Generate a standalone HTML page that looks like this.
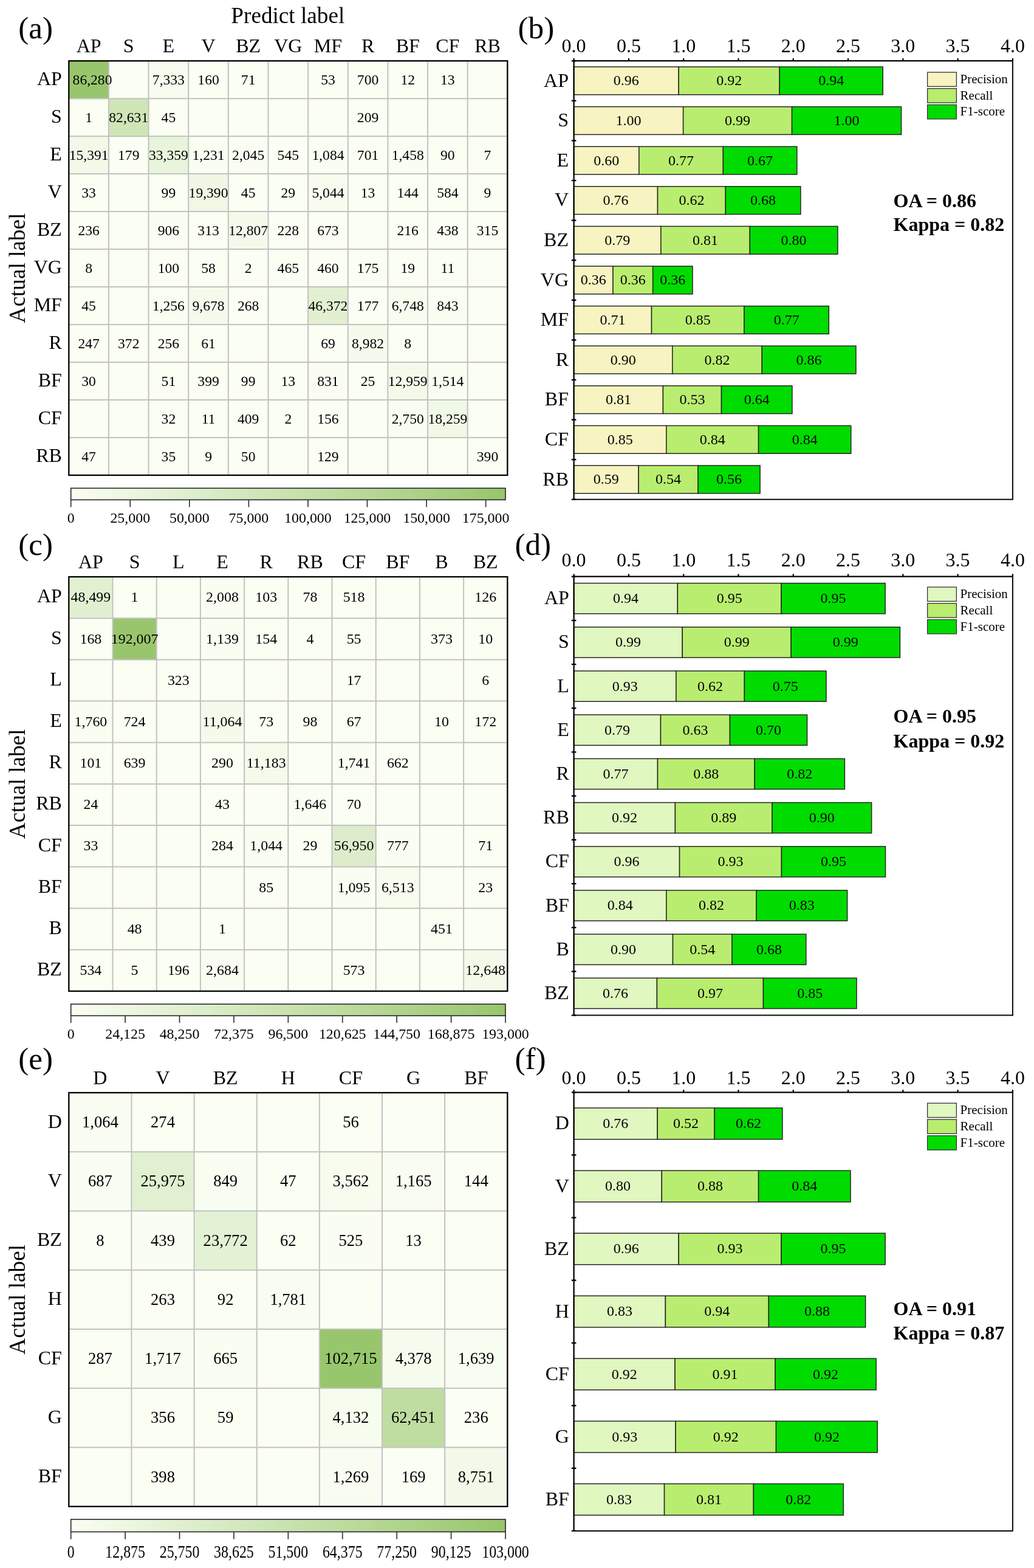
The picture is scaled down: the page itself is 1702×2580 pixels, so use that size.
<!DOCTYPE html>
<html lang="en">
<head>
<meta charset="utf-8">
<title>Confusion matrices and per-class accuracy</title>
<style>
html,body{margin:0;padding:0;background:#fff;}
body{width:1702px;height:2580px;overflow:hidden;}
svg{display:block;font-family:'Liberation Serif', 'DejaVu Serif', serif;fill:#000;}
svg text{fill:#000;}
</style>
</head>
<body>
<svg width="1702" height="2580" viewBox="0 0 1702 2580">
<rect x="0" y="0" width="1702" height="2580" fill="#ffffff"/>
<defs>
<linearGradient id="cbg" x1="0" y1="0" x2="1" y2="0"><stop offset="0" stop-color="#fafef3"/><stop offset="1" stop-color="#98c66c"/></linearGradient>
<clipPath id="mc0"><rect x="114.3" y="100.2" width="782" height="681.7"/></clipPath>
<clipPath id="mc1"><rect x="114.3" y="949.1" width="782" height="681.7"/></clipPath>
<clipPath id="mc2"><rect x="114.3" y="1797.95" width="782" height="680.85"/></clipPath>
</defs>
<g id="panel-a">
<text x="30.2" y="63.1" font-size="51.2" text-anchor="start">(a)</text>
<text x="473.8" y="38.3" font-size="37.2" text-anchor="middle">Predict label</text>
<text transform="translate(41.1 441.05) rotate(-90)" font-size="37.2" text-anchor="middle">Actual label</text>
<rect x="113.3" y="100.2" width="722" height="681.7" fill="#fafef3"/>
<rect x="113.3" y="100.2" width="65.64" height="61.97" fill="#98c66c"/>
<rect x="244.57" y="100.2" width="65.64" height="61.97" fill="#f6fcee"/>
<rect x="178.94" y="162.17" width="65.64" height="61.97" fill="#cfe5b7"/>
<rect x="113.3" y="224.15" width="65.64" height="61.97" fill="#f2f9e8"/>
<rect x="244.57" y="224.15" width="65.64" height="61.97" fill="#e8f4db"/>
<rect x="310.21" y="224.15" width="65.64" height="61.97" fill="#f9fef2"/>
<rect x="375.85" y="224.15" width="65.64" height="61.97" fill="#f9fdf2"/>
<rect x="507.12" y="224.15" width="65.64" height="61.97" fill="#f9fef2"/>
<rect x="638.39" y="224.15" width="65.64" height="61.97" fill="#f9fef2"/>
<rect x="310.21" y="286.12" width="65.64" height="61.97" fill="#f0f8e5"/>
<rect x="507.12" y="286.12" width="65.64" height="61.97" fill="#f7fcef"/>
<rect x="244.57" y="348.09" width="65.64" height="61.97" fill="#fafef2"/>
<rect x="375.85" y="348.09" width="65.64" height="61.97" fill="#f3faea"/>
<rect x="244.57" y="472.04" width="65.64" height="61.97" fill="#f9fef2"/>
<rect x="310.21" y="472.04" width="65.64" height="61.97" fill="#f5fbec"/>
<rect x="507.12" y="472.04" width="65.64" height="61.97" fill="#e2f0d1"/>
<rect x="638.39" y="472.04" width="65.64" height="61.97" fill="#f6fcee"/>
<rect x="704.03" y="472.04" width="65.64" height="61.97" fill="#fafef2"/>
<rect x="572.75" y="534.01" width="65.64" height="61.97" fill="#f5fbec"/>
<rect x="507.12" y="595.98" width="65.64" height="61.97" fill="#fafef2"/>
<rect x="638.39" y="595.98" width="65.64" height="61.97" fill="#f3faea"/>
<rect x="704.03" y="595.98" width="65.64" height="61.97" fill="#f9fef2"/>
<rect x="638.39" y="657.95" width="65.64" height="61.97" fill="#f9fdf1"/>
<rect x="704.03" y="657.95" width="65.64" height="61.97" fill="#f0f9e6"/>
<line x1="178.94" y1="100.2" x2="178.94" y2="781.9" stroke="#c2c2c2" stroke-width="2"/>
<line x1="113.3" y1="162.17" x2="835.3" y2="162.17" stroke="#c2c2c2" stroke-width="2"/>
<line x1="244.57" y1="100.2" x2="244.57" y2="781.9" stroke="#c2c2c2" stroke-width="2"/>
<line x1="113.3" y1="224.15" x2="835.3" y2="224.15" stroke="#c2c2c2" stroke-width="2"/>
<line x1="310.21" y1="100.2" x2="310.21" y2="781.9" stroke="#c2c2c2" stroke-width="2"/>
<line x1="113.3" y1="286.12" x2="835.3" y2="286.12" stroke="#c2c2c2" stroke-width="2"/>
<line x1="375.85" y1="100.2" x2="375.85" y2="781.9" stroke="#c2c2c2" stroke-width="2"/>
<line x1="113.3" y1="348.09" x2="835.3" y2="348.09" stroke="#c2c2c2" stroke-width="2"/>
<line x1="441.48" y1="100.2" x2="441.48" y2="781.9" stroke="#c2c2c2" stroke-width="2"/>
<line x1="113.3" y1="410.06" x2="835.3" y2="410.06" stroke="#c2c2c2" stroke-width="2"/>
<line x1="507.12" y1="100.2" x2="507.12" y2="781.9" stroke="#c2c2c2" stroke-width="2"/>
<line x1="113.3" y1="472.04" x2="835.3" y2="472.04" stroke="#c2c2c2" stroke-width="2"/>
<line x1="572.75" y1="100.2" x2="572.75" y2="781.9" stroke="#c2c2c2" stroke-width="2"/>
<line x1="113.3" y1="534.01" x2="835.3" y2="534.01" stroke="#c2c2c2" stroke-width="2"/>
<line x1="638.39" y1="100.2" x2="638.39" y2="781.9" stroke="#c2c2c2" stroke-width="2"/>
<line x1="113.3" y1="595.98" x2="835.3" y2="595.98" stroke="#c2c2c2" stroke-width="2"/>
<line x1="704.03" y1="100.2" x2="704.03" y2="781.9" stroke="#c2c2c2" stroke-width="2"/>
<line x1="113.3" y1="657.95" x2="835.3" y2="657.95" stroke="#c2c2c2" stroke-width="2"/>
<line x1="769.66" y1="100.2" x2="769.66" y2="781.9" stroke="#c2c2c2" stroke-width="2"/>
<line x1="113.3" y1="719.93" x2="835.3" y2="719.93" stroke="#c2c2c2" stroke-width="2"/>
<g clip-path="url(#mc0)" font-size="23.6" text-anchor="middle">
<text x="184.47" y="139.22" text-anchor="end">86,280</text>
<text x="277.39" y="139.22">7,333</text>
<text x="343.03" y="139.22">160</text>
<text x="408.66" y="139.22">71</text>
<text x="539.94" y="139.22">53</text>
<text x="605.57" y="139.22">700</text>
<text x="671.21" y="139.22">12</text>
<text x="736.85" y="139.22">13</text>
<text x="146.12" y="201.19">1</text>
<text x="211.75" y="201.19">82,631</text>
<text x="277.39" y="201.19">45</text>
<text x="605.57" y="201.19">209</text>
<text x="146.12" y="263.17">15,391</text>
<text x="211.75" y="263.17">179</text>
<text x="277.39" y="263.17">33,359</text>
<text x="343.03" y="263.17">1,231</text>
<text x="408.66" y="263.17">2,045</text>
<text x="474.3" y="263.17">545</text>
<text x="539.94" y="263.17">1,084</text>
<text x="605.57" y="263.17">701</text>
<text x="671.21" y="263.17">1,458</text>
<text x="736.85" y="263.17">90</text>
<text x="802.48" y="263.17">7</text>
<text x="146.12" y="325.14">33</text>
<text x="277.39" y="325.14">99</text>
<text x="343.03" y="325.14">19,390</text>
<text x="408.66" y="325.14">45</text>
<text x="474.3" y="325.14">29</text>
<text x="539.94" y="325.14">5,044</text>
<text x="605.57" y="325.14">13</text>
<text x="671.21" y="325.14">144</text>
<text x="736.85" y="325.14">584</text>
<text x="802.48" y="325.14">9</text>
<text x="146.12" y="387.11">236</text>
<text x="277.39" y="387.11">906</text>
<text x="343.03" y="387.11">313</text>
<text x="408.66" y="387.11">12,807</text>
<text x="474.3" y="387.11">228</text>
<text x="539.94" y="387.11">673</text>
<text x="671.21" y="387.11">216</text>
<text x="736.85" y="387.11">438</text>
<text x="802.48" y="387.11">315</text>
<text x="146.12" y="449.08">8</text>
<text x="277.39" y="449.08">100</text>
<text x="343.03" y="449.08">58</text>
<text x="408.66" y="449.08">2</text>
<text x="474.3" y="449.08">465</text>
<text x="539.94" y="449.08">460</text>
<text x="605.57" y="449.08">175</text>
<text x="671.21" y="449.08">19</text>
<text x="736.85" y="449.08">11</text>
<text x="146.12" y="511.06">45</text>
<text x="277.39" y="511.06">1,256</text>
<text x="343.03" y="511.06">9,678</text>
<text x="408.66" y="511.06">268</text>
<text x="539.94" y="511.06">46,372</text>
<text x="605.57" y="511.06">177</text>
<text x="671.21" y="511.06">6,748</text>
<text x="736.85" y="511.06">843</text>
<text x="146.12" y="573.03">247</text>
<text x="211.75" y="573.03">372</text>
<text x="277.39" y="573.03">256</text>
<text x="343.03" y="573.03">61</text>
<text x="539.94" y="573.03">69</text>
<text x="605.57" y="573.03">8,982</text>
<text x="671.21" y="573.03">8</text>
<text x="146.12" y="635">30</text>
<text x="277.39" y="635">51</text>
<text x="343.03" y="635">399</text>
<text x="408.66" y="635">99</text>
<text x="474.3" y="635">13</text>
<text x="539.94" y="635">831</text>
<text x="605.57" y="635">25</text>
<text x="671.21" y="635">12,959</text>
<text x="736.85" y="635">1,514</text>
<text x="277.39" y="696.97">32</text>
<text x="343.03" y="696.97">11</text>
<text x="408.66" y="696.97">409</text>
<text x="474.3" y="696.97">2</text>
<text x="539.94" y="696.97">156</text>
<text x="671.21" y="696.97">2,750</text>
<text x="736.85" y="696.97">18,259</text>
<text x="146.12" y="758.95">47</text>
<text x="277.39" y="758.95">35</text>
<text x="343.03" y="758.95">9</text>
<text x="408.66" y="758.95">50</text>
<text x="539.94" y="758.95">129</text>
<text x="802.48" y="758.95">390</text>
</g>
<rect x="113.3" y="100.2" width="722" height="681.7" fill="none" stroke="#000" stroke-width="2.3"/>
<text x="146.12" y="86" font-size="32" text-anchor="middle">AP</text>
<text x="101.9" y="140.09" font-size="32" text-anchor="end">AP</text>
<text x="211.75" y="86" font-size="32" text-anchor="middle">S</text>
<text x="101.9" y="202.06" font-size="32" text-anchor="end">S</text>
<text x="277.39" y="86" font-size="32" text-anchor="middle">E</text>
<text x="101.9" y="264.03" font-size="32" text-anchor="end">E</text>
<text x="343.03" y="86" font-size="32" text-anchor="middle">V</text>
<text x="101.9" y="326" font-size="32" text-anchor="end">V</text>
<text x="408.66" y="86" font-size="32" text-anchor="middle">BZ</text>
<text x="101.9" y="387.98" font-size="32" text-anchor="end">BZ</text>
<text x="474.3" y="86" font-size="32" text-anchor="middle">VG</text>
<text x="101.9" y="449.95" font-size="32" text-anchor="end">VG</text>
<text x="539.94" y="86" font-size="32" text-anchor="middle">MF</text>
<text x="101.9" y="511.92" font-size="32" text-anchor="end">MF</text>
<text x="605.57" y="86" font-size="32" text-anchor="middle">R</text>
<text x="101.9" y="573.9" font-size="32" text-anchor="end">R</text>
<text x="671.21" y="86" font-size="32" text-anchor="middle">BF</text>
<text x="101.9" y="635.87" font-size="32" text-anchor="end">BF</text>
<text x="736.85" y="86" font-size="32" text-anchor="middle">CF</text>
<text x="101.9" y="697.84" font-size="32" text-anchor="end">CF</text>
<text x="802.48" y="86" font-size="32" text-anchor="middle">RB</text>
<text x="101.9" y="759.81" font-size="32" text-anchor="end">RB</text>
<rect x="116.7" y="803.3" width="715.3" height="19.1" fill="url(#cbg)" stroke="#262626" stroke-width="1.6"/>
<line x1="116.7" y1="822.4" x2="116.7" y2="834.3" stroke="#333" stroke-width="1.7"/>
<text x="116.7" y="860.3" font-size="23.9" text-anchor="middle">0</text>
<line x1="214.26" y1="822.4" x2="214.26" y2="834.3" stroke="#333" stroke-width="1.7"/>
<text x="214.26" y="860.3" font-size="23.9" text-anchor="middle">25,000</text>
<line x1="311.82" y1="822.4" x2="311.82" y2="834.3" stroke="#333" stroke-width="1.7"/>
<text x="311.82" y="860.3" font-size="23.9" text-anchor="middle">50,000</text>
<line x1="409.38" y1="822.4" x2="409.38" y2="834.3" stroke="#333" stroke-width="1.7"/>
<text x="409.38" y="860.3" font-size="23.9" text-anchor="middle">75,000</text>
<line x1="506.93" y1="822.4" x2="506.93" y2="834.3" stroke="#333" stroke-width="1.7"/>
<text x="506.93" y="860.3" font-size="23.9" text-anchor="middle">100,000</text>
<line x1="604.49" y1="822.4" x2="604.49" y2="834.3" stroke="#333" stroke-width="1.7"/>
<text x="604.49" y="860.3" font-size="23.9" text-anchor="middle">125,000</text>
<line x1="702.05" y1="822.4" x2="702.05" y2="834.3" stroke="#333" stroke-width="1.7"/>
<text x="702.05" y="860.3" font-size="23.9" text-anchor="middle">150,000</text>
<line x1="799.61" y1="822.4" x2="799.61" y2="834.3" stroke="#333" stroke-width="1.7"/>
<text x="799.61" y="860.3" font-size="23.9" text-anchor="middle">175,000</text>
<text x="852.5" y="63.1" font-size="51.2" text-anchor="start">(b)</text>
<line x1="944.6" y1="95.9" x2="944.6" y2="100.2" stroke="#000" stroke-width="2.2"/>
<text x="944.6" y="86.4" font-size="32" text-anchor="middle">0.0</text>
<line x1="1034.89" y1="95.9" x2="1034.89" y2="100.2" stroke="#000" stroke-width="2.2"/>
<text x="1034.89" y="86.4" font-size="32" text-anchor="middle">0.5</text>
<line x1="1125.17" y1="95.9" x2="1125.17" y2="100.2" stroke="#000" stroke-width="2.2"/>
<text x="1125.17" y="86.4" font-size="32" text-anchor="middle">1.0</text>
<line x1="1215.46" y1="95.9" x2="1215.46" y2="100.2" stroke="#000" stroke-width="2.2"/>
<text x="1215.46" y="86.4" font-size="32" text-anchor="middle">1.5</text>
<line x1="1305.75" y1="95.9" x2="1305.75" y2="100.2" stroke="#000" stroke-width="2.2"/>
<text x="1305.75" y="86.4" font-size="32" text-anchor="middle">2.0</text>
<line x1="1396.04" y1="95.9" x2="1396.04" y2="100.2" stroke="#000" stroke-width="2.2"/>
<text x="1396.04" y="86.4" font-size="32" text-anchor="middle">2.5</text>
<line x1="1486.33" y1="95.9" x2="1486.33" y2="100.2" stroke="#000" stroke-width="2.2"/>
<text x="1486.33" y="86.4" font-size="32" text-anchor="middle">3.0</text>
<line x1="1576.61" y1="95.9" x2="1576.61" y2="100.2" stroke="#000" stroke-width="2.2"/>
<text x="1576.61" y="86.4" font-size="32" text-anchor="middle">3.5</text>
<line x1="1666.9" y1="95.9" x2="1666.9" y2="100.2" stroke="#000" stroke-width="2.2"/>
<text x="1666.9" y="86.4" font-size="32" text-anchor="middle">4.0</text>
<line x1="940.8" y1="100.2" x2="948.4" y2="100.2" stroke="#000" stroke-width="2.3"/>
<line x1="940.8" y1="165.8" x2="948.4" y2="165.8" stroke="#000" stroke-width="2.3"/>
<line x1="940.8" y1="231.4" x2="948.4" y2="231.4" stroke="#000" stroke-width="2.3"/>
<line x1="940.8" y1="297" x2="948.4" y2="297" stroke="#000" stroke-width="2.3"/>
<line x1="940.8" y1="362.6" x2="948.4" y2="362.6" stroke="#000" stroke-width="2.3"/>
<line x1="940.8" y1="428.2" x2="948.4" y2="428.2" stroke="#000" stroke-width="2.3"/>
<line x1="940.8" y1="493.8" x2="948.4" y2="493.8" stroke="#000" stroke-width="2.3"/>
<line x1="940.8" y1="559.4" x2="948.4" y2="559.4" stroke="#000" stroke-width="2.3"/>
<line x1="940.8" y1="625" x2="948.4" y2="625" stroke="#000" stroke-width="2.3"/>
<line x1="940.8" y1="690.6" x2="948.4" y2="690.6" stroke="#000" stroke-width="2.3"/>
<line x1="940.8" y1="756.2" x2="948.4" y2="756.2" stroke="#000" stroke-width="2.3"/>
<line x1="940.8" y1="821.8" x2="948.4" y2="821.8" stroke="#000" stroke-width="2.3"/>
<text x="936" y="142.5" font-size="32" text-anchor="end">AP</text>
<rect x="944.6" y="110" width="172.54" height="45.8" fill="#f7f4c1" stroke="#262620" stroke-width="1.5"/>
<text x="1030.87" y="140.32" font-size="24" text-anchor="middle">0.96</text>
<rect x="1117.14" y="110" width="166.07" height="45.8" fill="#b9ed6f" stroke="#262620" stroke-width="1.5"/>
<text x="1200.18" y="140.32" font-size="24" text-anchor="middle">0.92</text>
<rect x="1283.21" y="110" width="170" height="45.8" fill="#00dc00" stroke="#262620" stroke-width="1.5"/>
<text x="1368.21" y="140.32" font-size="24" text-anchor="middle">0.94</text>
<text x="936" y="208.1" font-size="32" text-anchor="end">S</text>
<rect x="944.6" y="175.6" width="180.04" height="45.8" fill="#f7f4c1" stroke="#262620" stroke-width="1.5"/>
<text x="1034.62" y="205.92" font-size="24" text-anchor="middle">1.00</text>
<rect x="1124.64" y="175.6" width="178.93" height="45.8" fill="#b9ed6f" stroke="#262620" stroke-width="1.5"/>
<text x="1214.11" y="205.92" font-size="24" text-anchor="middle">0.99</text>
<rect x="1303.57" y="175.6" width="180" height="45.8" fill="#00dc00" stroke="#262620" stroke-width="1.5"/>
<text x="1393.57" y="205.92" font-size="24" text-anchor="middle">1.00</text>
<text x="936" y="273.7" font-size="32" text-anchor="end">E</text>
<rect x="944.6" y="241.2" width="107.19" height="45.8" fill="#f7f4c1" stroke="#262620" stroke-width="1.5"/>
<text x="998.19" y="271.52" font-size="24" text-anchor="middle">0.60</text>
<rect x="1051.79" y="241.2" width="138.57" height="45.8" fill="#b9ed6f" stroke="#262620" stroke-width="1.5"/>
<text x="1121.07" y="271.52" font-size="24" text-anchor="middle">0.77</text>
<rect x="1190.36" y="241.2" width="121.43" height="45.8" fill="#00dc00" stroke="#262620" stroke-width="1.5"/>
<text x="1251.07" y="271.52" font-size="24" text-anchor="middle">0.67</text>
<text x="936" y="339.3" font-size="32" text-anchor="end">V</text>
<rect x="944.6" y="306.8" width="137.9" height="45.8" fill="#f7f4c1" stroke="#262620" stroke-width="1.5"/>
<text x="1013.55" y="337.12" font-size="24" text-anchor="middle">0.76</text>
<rect x="1082.5" y="306.8" width="111.79" height="45.8" fill="#b9ed6f" stroke="#262620" stroke-width="1.5"/>
<text x="1138.39" y="337.12" font-size="24" text-anchor="middle">0.62</text>
<rect x="1194.29" y="306.8" width="123.57" height="45.8" fill="#00dc00" stroke="#262620" stroke-width="1.5"/>
<text x="1256.07" y="337.12" font-size="24" text-anchor="middle">0.68</text>
<text x="936" y="404.9" font-size="32" text-anchor="end">BZ</text>
<rect x="944.6" y="372.4" width="143.26" height="45.8" fill="#f7f4c1" stroke="#262620" stroke-width="1.5"/>
<text x="1016.23" y="402.72" font-size="24" text-anchor="middle">0.79</text>
<rect x="1087.86" y="372.4" width="146.43" height="45.8" fill="#b9ed6f" stroke="#262620" stroke-width="1.5"/>
<text x="1161.07" y="402.72" font-size="24" text-anchor="middle">0.81</text>
<rect x="1234.29" y="372.4" width="144.64" height="45.8" fill="#00dc00" stroke="#262620" stroke-width="1.5"/>
<text x="1306.61" y="402.72" font-size="24" text-anchor="middle">0.80</text>
<text x="936" y="470.5" font-size="32" text-anchor="end">VG</text>
<rect x="944.6" y="438" width="64.33" height="45.8" fill="#f7f4c1" stroke="#262620" stroke-width="1.5"/>
<text x="976.76" y="468.32" font-size="24" text-anchor="middle">0.36</text>
<rect x="1008.93" y="438" width="65.71" height="45.8" fill="#b9ed6f" stroke="#262620" stroke-width="1.5"/>
<text x="1041.79" y="468.32" font-size="24" text-anchor="middle">0.36</text>
<rect x="1074.64" y="438" width="65.36" height="45.8" fill="#00dc00" stroke="#262620" stroke-width="1.5"/>
<text x="1107.32" y="468.32" font-size="24" text-anchor="middle">0.36</text>
<text x="936" y="536.1" font-size="32" text-anchor="end">MF</text>
<rect x="944.6" y="503.6" width="127.9" height="45.8" fill="#f7f4c1" stroke="#262620" stroke-width="1.5"/>
<text x="1008.55" y="533.92" font-size="24" text-anchor="middle">0.71</text>
<rect x="1072.5" y="503.6" width="152.5" height="45.8" fill="#b9ed6f" stroke="#262620" stroke-width="1.5"/>
<text x="1148.75" y="533.92" font-size="24" text-anchor="middle">0.85</text>
<rect x="1225" y="503.6" width="139.29" height="45.8" fill="#00dc00" stroke="#262620" stroke-width="1.5"/>
<text x="1294.64" y="533.92" font-size="24" text-anchor="middle">0.77</text>
<text x="936" y="601.7" font-size="32" text-anchor="end">R</text>
<rect x="944.6" y="569.2" width="162.19" height="45.8" fill="#f7f4c1" stroke="#262620" stroke-width="1.5"/>
<text x="1025.69" y="599.52" font-size="24" text-anchor="middle">0.90</text>
<rect x="1106.79" y="569.2" width="147.5" height="45.8" fill="#b9ed6f" stroke="#262620" stroke-width="1.5"/>
<text x="1180.54" y="599.52" font-size="24" text-anchor="middle">0.82</text>
<rect x="1254.29" y="569.2" width="154.64" height="45.8" fill="#00dc00" stroke="#262620" stroke-width="1.5"/>
<text x="1331.61" y="599.52" font-size="24" text-anchor="middle">0.86</text>
<text x="936" y="667.3" font-size="32" text-anchor="end">BF</text>
<rect x="944.6" y="634.8" width="146.83" height="45.8" fill="#f7f4c1" stroke="#262620" stroke-width="1.5"/>
<text x="1018.01" y="665.12" font-size="24" text-anchor="middle">0.81</text>
<rect x="1091.43" y="634.8" width="96.07" height="45.8" fill="#b9ed6f" stroke="#262620" stroke-width="1.5"/>
<text x="1139.46" y="665.12" font-size="24" text-anchor="middle">0.53</text>
<rect x="1187.5" y="634.8" width="116.43" height="45.8" fill="#00dc00" stroke="#262620" stroke-width="1.5"/>
<text x="1245.71" y="665.12" font-size="24" text-anchor="middle">0.64</text>
<text x="936" y="732.9" font-size="32" text-anchor="end">CF</text>
<rect x="944.6" y="700.4" width="152.19" height="45.8" fill="#f7f4c1" stroke="#262620" stroke-width="1.5"/>
<text x="1020.69" y="730.72" font-size="24" text-anchor="middle">0.85</text>
<rect x="1096.79" y="700.4" width="151.79" height="45.8" fill="#b9ed6f" stroke="#262620" stroke-width="1.5"/>
<text x="1172.68" y="730.72" font-size="24" text-anchor="middle">0.84</text>
<rect x="1248.57" y="700.4" width="152.14" height="45.8" fill="#00dc00" stroke="#262620" stroke-width="1.5"/>
<text x="1324.64" y="730.72" font-size="24" text-anchor="middle">0.84</text>
<text x="936" y="798.5" font-size="32" text-anchor="end">RB</text>
<rect x="944.6" y="766" width="106.47" height="45.8" fill="#f7f4c1" stroke="#262620" stroke-width="1.5"/>
<text x="997.84" y="796.32" font-size="24" text-anchor="middle">0.59</text>
<rect x="1051.07" y="766" width="97.86" height="45.8" fill="#b9ed6f" stroke="#262620" stroke-width="1.5"/>
<text x="1100" y="796.32" font-size="24" text-anchor="middle">0.54</text>
<rect x="1148.93" y="766" width="102.14" height="45.8" fill="#00dc00" stroke="#262620" stroke-width="1.5"/>
<text x="1200" y="796.32" font-size="24" text-anchor="middle">0.56</text>
<line x1="944.6" y1="99.05" x2="944.6" y2="822.7" stroke="#000" stroke-width="2.3"/>
<line x1="943.45" y1="100.2" x2="1667.8" y2="100.2" stroke="#000" stroke-width="2.3"/>
<line x1="1666.9" y1="100.2" x2="1666.9" y2="822.7" stroke="#080808" stroke-width="2"/>
<line x1="944.6" y1="821.8" x2="1666.9" y2="821.8" stroke="#080808" stroke-width="2"/>
<rect x="1526.6" y="118.9" width="47.8" height="23.4" fill="#f7f4c1" stroke="#333" stroke-width="1.3"/>
<text x="1580.6" y="136.9" font-size="21" text-anchor="start">Precision</text>
<rect x="1526.6" y="145.65" width="47.8" height="23.4" fill="#b9ed6f" stroke="#333" stroke-width="1.3"/>
<text x="1580.6" y="163.65" font-size="21" text-anchor="start">Recall</text>
<rect x="1526.6" y="172.4" width="47.8" height="23.4" fill="#00dc00" stroke="#333" stroke-width="1.3"/>
<text x="1580.6" y="190.4" font-size="21" text-anchor="start">F1-score</text>
<text x="1470.5" y="341" font-size="32" text-anchor="start" font-weight="bold">OA = 0.86</text>
<text x="1470.5" y="380" font-size="32" text-anchor="start" font-weight="bold">Kappa = 0.82</text>
</g>
<g id="panel-c">
<text x="30.2" y="913.3" font-size="51.2" text-anchor="start">(c)</text>
<text transform="translate(41.1 1289.95) rotate(-90)" font-size="37.2" text-anchor="middle">Actual label</text>
<rect x="113.3" y="949.1" width="722" height="681.7" fill="#fafef3"/>
<rect x="113.3" y="949.1" width="72.2" height="68.17" fill="#e1f0d1"/>
<rect x="329.9" y="949.1" width="72.2" height="68.17" fill="#f9fdf2"/>
<rect x="185.5" y="1017.27" width="72.2" height="68.17" fill="#99c66d"/>
<rect x="329.9" y="1017.27" width="72.2" height="68.17" fill="#f9fef2"/>
<rect x="113.3" y="1153.61" width="72.2" height="68.17" fill="#f9fdf2"/>
<rect x="329.9" y="1153.61" width="72.2" height="68.17" fill="#f4fbeb"/>
<rect x="402.1" y="1221.78" width="72.2" height="68.17" fill="#f4fbeb"/>
<rect x="546.5" y="1221.78" width="72.2" height="68.17" fill="#f9fdf2"/>
<rect x="474.3" y="1289.95" width="72.2" height="68.17" fill="#f9fef2"/>
<rect x="402.1" y="1358.12" width="72.2" height="68.17" fill="#f9fef2"/>
<rect x="546.5" y="1358.12" width="72.2" height="68.17" fill="#ddedcb"/>
<rect x="618.7" y="1358.12" width="72.2" height="68.17" fill="#fafef2"/>
<rect x="546.5" y="1426.29" width="72.2" height="68.17" fill="#f9fef2"/>
<rect x="618.7" y="1426.29" width="72.2" height="68.17" fill="#f7fcee"/>
<rect x="329.9" y="1562.63" width="72.2" height="68.17" fill="#f9fdf1"/>
<rect x="763.1" y="1562.63" width="72.2" height="68.17" fill="#f4faea"/>
<line x1="185.5" y1="949.1" x2="185.5" y2="1630.8" stroke="#c2c2c2" stroke-width="2"/>
<line x1="113.3" y1="1017.27" x2="835.3" y2="1017.27" stroke="#c2c2c2" stroke-width="2"/>
<line x1="257.7" y1="949.1" x2="257.7" y2="1630.8" stroke="#c2c2c2" stroke-width="2"/>
<line x1="113.3" y1="1085.44" x2="835.3" y2="1085.44" stroke="#c2c2c2" stroke-width="2"/>
<line x1="329.9" y1="949.1" x2="329.9" y2="1630.8" stroke="#c2c2c2" stroke-width="2"/>
<line x1="113.3" y1="1153.61" x2="835.3" y2="1153.61" stroke="#c2c2c2" stroke-width="2"/>
<line x1="402.1" y1="949.1" x2="402.1" y2="1630.8" stroke="#c2c2c2" stroke-width="2"/>
<line x1="113.3" y1="1221.78" x2="835.3" y2="1221.78" stroke="#c2c2c2" stroke-width="2"/>
<line x1="474.3" y1="949.1" x2="474.3" y2="1630.8" stroke="#c2c2c2" stroke-width="2"/>
<line x1="113.3" y1="1289.95" x2="835.3" y2="1289.95" stroke="#c2c2c2" stroke-width="2"/>
<line x1="546.5" y1="949.1" x2="546.5" y2="1630.8" stroke="#c2c2c2" stroke-width="2"/>
<line x1="113.3" y1="1358.12" x2="835.3" y2="1358.12" stroke="#c2c2c2" stroke-width="2"/>
<line x1="618.7" y1="949.1" x2="618.7" y2="1630.8" stroke="#c2c2c2" stroke-width="2"/>
<line x1="113.3" y1="1426.29" x2="835.3" y2="1426.29" stroke="#c2c2c2" stroke-width="2"/>
<line x1="690.9" y1="949.1" x2="690.9" y2="1630.8" stroke="#c2c2c2" stroke-width="2"/>
<line x1="113.3" y1="1494.46" x2="835.3" y2="1494.46" stroke="#c2c2c2" stroke-width="2"/>
<line x1="763.1" y1="949.1" x2="763.1" y2="1630.8" stroke="#c2c2c2" stroke-width="2"/>
<line x1="113.3" y1="1562.63" x2="835.3" y2="1562.63" stroke="#c2c2c2" stroke-width="2"/>
<g clip-path="url(#mc1)" font-size="23.9" text-anchor="middle">
<text x="149.4" y="990.41">48,499</text>
<text x="221.6" y="990.41">1</text>
<text x="366" y="990.41">2,008</text>
<text x="438.2" y="990.41">103</text>
<text x="510.4" y="990.41">78</text>
<text x="582.6" y="990.41">518</text>
<text x="799.2" y="990.41">126</text>
<text x="149.4" y="1058.58">168</text>
<text x="221.6" y="1058.58">192,007</text>
<text x="366" y="1058.58">1,139</text>
<text x="438.2" y="1058.58">154</text>
<text x="510.4" y="1058.58">4</text>
<text x="582.6" y="1058.58">55</text>
<text x="727" y="1058.58">373</text>
<text x="799.2" y="1058.58">10</text>
<text x="293.8" y="1126.75">323</text>
<text x="582.6" y="1126.75">17</text>
<text x="799.2" y="1126.75">6</text>
<text x="149.4" y="1194.92">1,760</text>
<text x="221.6" y="1194.92">724</text>
<text x="366" y="1194.92">11,064</text>
<text x="438.2" y="1194.92">73</text>
<text x="510.4" y="1194.92">98</text>
<text x="582.6" y="1194.92">67</text>
<text x="727" y="1194.92">10</text>
<text x="799.2" y="1194.92">172</text>
<text x="149.4" y="1263.09">101</text>
<text x="221.6" y="1263.09">639</text>
<text x="366" y="1263.09">290</text>
<text x="438.2" y="1263.09">11,183</text>
<text x="582.6" y="1263.09">1,741</text>
<text x="654.8" y="1263.09">662</text>
<text x="149.4" y="1331.26">24</text>
<text x="366" y="1331.26">43</text>
<text x="510.4" y="1331.26">1,646</text>
<text x="582.6" y="1331.26">70</text>
<text x="149.4" y="1399.43">33</text>
<text x="366" y="1399.43">284</text>
<text x="438.2" y="1399.43">1,044</text>
<text x="510.4" y="1399.43">29</text>
<text x="582.6" y="1399.43">56,950</text>
<text x="654.8" y="1399.43">777</text>
<text x="799.2" y="1399.43">71</text>
<text x="438.2" y="1467.6">85</text>
<text x="582.6" y="1467.6">1,095</text>
<text x="654.8" y="1467.6">6,513</text>
<text x="799.2" y="1467.6">23</text>
<text x="221.6" y="1535.77">48</text>
<text x="366" y="1535.77">1</text>
<text x="727" y="1535.77">451</text>
<text x="149.4" y="1603.94">534</text>
<text x="221.6" y="1603.94">5</text>
<text x="293.8" y="1603.94">196</text>
<text x="366" y="1603.94">2,684</text>
<text x="582.6" y="1603.94">573</text>
<text x="799.2" y="1603.94">12,648</text>
</g>
<rect x="113.3" y="949.1" width="722" height="681.7" fill="none" stroke="#000" stroke-width="2.3"/>
<text x="149.4" y="934.9" font-size="32" text-anchor="middle">AP</text>
<text x="101.9" y="991.49" font-size="32" text-anchor="end">AP</text>
<text x="221.6" y="934.9" font-size="32" text-anchor="middle">S</text>
<text x="101.9" y="1059.65" font-size="32" text-anchor="end">S</text>
<text x="293.8" y="934.9" font-size="32" text-anchor="middle">L</text>
<text x="101.9" y="1127.83" font-size="32" text-anchor="end">L</text>
<text x="366" y="934.9" font-size="32" text-anchor="middle">E</text>
<text x="101.9" y="1196" font-size="32" text-anchor="end">E</text>
<text x="438.2" y="934.9" font-size="32" text-anchor="middle">R</text>
<text x="101.9" y="1264.17" font-size="32" text-anchor="end">R</text>
<text x="510.4" y="934.9" font-size="32" text-anchor="middle">RB</text>
<text x="101.9" y="1332.34" font-size="32" text-anchor="end">RB</text>
<text x="582.6" y="934.9" font-size="32" text-anchor="middle">CF</text>
<text x="101.9" y="1400.51" font-size="32" text-anchor="end">CF</text>
<text x="654.8" y="934.9" font-size="32" text-anchor="middle">BF</text>
<text x="101.9" y="1468.67" font-size="32" text-anchor="end">BF</text>
<text x="727" y="934.9" font-size="32" text-anchor="middle">B</text>
<text x="101.9" y="1536.85" font-size="32" text-anchor="end">B</text>
<text x="799.2" y="934.9" font-size="32" text-anchor="middle">BZ</text>
<text x="101.9" y="1605.02" font-size="32" text-anchor="end">BZ</text>
<rect x="116.7" y="1652.2" width="715.3" height="19.1" fill="url(#cbg)" stroke="#262626" stroke-width="1.6"/>
<line x1="116.7" y1="1671.3" x2="116.7" y2="1683" stroke="#333" stroke-width="1.7"/>
<text x="116.7" y="1708.9" font-size="23.9" text-anchor="middle">0</text>
<line x1="206.11" y1="1671.3" x2="206.11" y2="1683" stroke="#333" stroke-width="1.7"/>
<text x="206.11" y="1708.9" font-size="23.9" text-anchor="middle">24,125</text>
<line x1="295.52" y1="1671.3" x2="295.52" y2="1683" stroke="#333" stroke-width="1.7"/>
<text x="295.52" y="1708.9" font-size="23.9" text-anchor="middle">48,250</text>
<line x1="384.94" y1="1671.3" x2="384.94" y2="1683" stroke="#333" stroke-width="1.7"/>
<text x="384.94" y="1708.9" font-size="23.9" text-anchor="middle">72,375</text>
<line x1="474.35" y1="1671.3" x2="474.35" y2="1683" stroke="#333" stroke-width="1.7"/>
<text x="474.35" y="1708.9" font-size="23.9" text-anchor="middle">96,500</text>
<line x1="563.76" y1="1671.3" x2="563.76" y2="1683" stroke="#333" stroke-width="1.7"/>
<text x="563.76" y="1708.9" font-size="23.9" text-anchor="middle">120,625</text>
<line x1="653.18" y1="1671.3" x2="653.18" y2="1683" stroke="#333" stroke-width="1.7"/>
<text x="653.18" y="1708.9" font-size="23.9" text-anchor="middle">144,750</text>
<line x1="742.59" y1="1671.3" x2="742.59" y2="1683" stroke="#333" stroke-width="1.7"/>
<text x="742.59" y="1708.9" font-size="23.9" text-anchor="middle">168,875</text>
<line x1="832" y1="1671.3" x2="832" y2="1683" stroke="#333" stroke-width="1.7"/>
<text x="832" y="1708.9" font-size="23.9" text-anchor="middle">193,000</text>
<text x="847.4" y="913.3" font-size="51.2" text-anchor="start">(d)</text>
<line x1="944.6" y1="944.4" x2="944.6" y2="948.7" stroke="#000" stroke-width="2.2"/>
<text x="944.6" y="932.4" font-size="32" text-anchor="middle">0.0</text>
<line x1="1034.89" y1="944.4" x2="1034.89" y2="948.7" stroke="#000" stroke-width="2.2"/>
<text x="1034.89" y="932.4" font-size="32" text-anchor="middle">0.5</text>
<line x1="1125.17" y1="944.4" x2="1125.17" y2="948.7" stroke="#000" stroke-width="2.2"/>
<text x="1125.17" y="932.4" font-size="32" text-anchor="middle">1.0</text>
<line x1="1215.46" y1="944.4" x2="1215.46" y2="948.7" stroke="#000" stroke-width="2.2"/>
<text x="1215.46" y="932.4" font-size="32" text-anchor="middle">1.5</text>
<line x1="1305.75" y1="944.4" x2="1305.75" y2="948.7" stroke="#000" stroke-width="2.2"/>
<text x="1305.75" y="932.4" font-size="32" text-anchor="middle">2.0</text>
<line x1="1396.04" y1="944.4" x2="1396.04" y2="948.7" stroke="#000" stroke-width="2.2"/>
<text x="1396.04" y="932.4" font-size="32" text-anchor="middle">2.5</text>
<line x1="1486.33" y1="944.4" x2="1486.33" y2="948.7" stroke="#000" stroke-width="2.2"/>
<text x="1486.33" y="932.4" font-size="32" text-anchor="middle">3.0</text>
<line x1="1576.61" y1="944.4" x2="1576.61" y2="948.7" stroke="#000" stroke-width="2.2"/>
<text x="1576.61" y="932.4" font-size="32" text-anchor="middle">3.5</text>
<line x1="1666.9" y1="944.4" x2="1666.9" y2="948.7" stroke="#000" stroke-width="2.2"/>
<text x="1666.9" y="932.4" font-size="32" text-anchor="middle">4.0</text>
<line x1="940.8" y1="948.7" x2="948.4" y2="948.7" stroke="#000" stroke-width="2.3"/>
<line x1="940.8" y1="1020.89" x2="948.4" y2="1020.89" stroke="#000" stroke-width="2.3"/>
<line x1="940.8" y1="1093.08" x2="948.4" y2="1093.08" stroke="#000" stroke-width="2.3"/>
<line x1="940.8" y1="1165.27" x2="948.4" y2="1165.27" stroke="#000" stroke-width="2.3"/>
<line x1="940.8" y1="1237.46" x2="948.4" y2="1237.46" stroke="#000" stroke-width="2.3"/>
<line x1="940.8" y1="1309.65" x2="948.4" y2="1309.65" stroke="#000" stroke-width="2.3"/>
<line x1="940.8" y1="1381.84" x2="948.4" y2="1381.84" stroke="#000" stroke-width="2.3"/>
<line x1="940.8" y1="1454.03" x2="948.4" y2="1454.03" stroke="#000" stroke-width="2.3"/>
<line x1="940.8" y1="1526.22" x2="948.4" y2="1526.22" stroke="#000" stroke-width="2.3"/>
<line x1="940.8" y1="1598.41" x2="948.4" y2="1598.41" stroke="#000" stroke-width="2.3"/>
<line x1="940.8" y1="1670.6" x2="948.4" y2="1670.6" stroke="#000" stroke-width="2.3"/>
<text x="936.8" y="994.3" font-size="32" text-anchor="end">AP</text>
<rect x="944.6" y="959.6" width="170.76" height="50.2" fill="#e0f7c0" stroke="#262620" stroke-width="1.5"/>
<text x="1029.98" y="992.12" font-size="24" text-anchor="middle">0.94</text>
<rect x="1115.36" y="959.6" width="170.71" height="50.2" fill="#b9ed6f" stroke="#262620" stroke-width="1.5"/>
<text x="1200.71" y="992.12" font-size="24" text-anchor="middle">0.95</text>
<rect x="1286.07" y="959.6" width="171.07" height="50.2" fill="#00dc00" stroke="#262620" stroke-width="1.5"/>
<text x="1371.61" y="992.12" font-size="24" text-anchor="middle">0.95</text>
<text x="936.8" y="1066.49" font-size="32" text-anchor="end">S</text>
<rect x="944.6" y="1031.79" width="178.61" height="50.2" fill="#e0f7c0" stroke="#262620" stroke-width="1.5"/>
<text x="1033.91" y="1064.31" font-size="24" text-anchor="middle">0.99</text>
<rect x="1123.21" y="1031.79" width="178.93" height="50.2" fill="#b9ed6f" stroke="#262620" stroke-width="1.5"/>
<text x="1212.68" y="1064.31" font-size="24" text-anchor="middle">0.99</text>
<rect x="1302.14" y="1031.79" width="179.29" height="50.2" fill="#00dc00" stroke="#262620" stroke-width="1.5"/>
<text x="1391.79" y="1064.31" font-size="24" text-anchor="middle">0.99</text>
<text x="936.8" y="1138.67" font-size="32" text-anchor="end">L</text>
<rect x="944.6" y="1103.98" width="168.26" height="50.2" fill="#e0f7c0" stroke="#262620" stroke-width="1.5"/>
<text x="1028.73" y="1136.5" font-size="24" text-anchor="middle">0.93</text>
<rect x="1112.86" y="1103.98" width="112.5" height="50.2" fill="#b9ed6f" stroke="#262620" stroke-width="1.5"/>
<text x="1169.11" y="1136.5" font-size="24" text-anchor="middle">0.62</text>
<rect x="1225.36" y="1103.98" width="134.64" height="50.2" fill="#00dc00" stroke="#262620" stroke-width="1.5"/>
<text x="1292.68" y="1136.5" font-size="24" text-anchor="middle">0.75</text>
<text x="936.8" y="1210.87" font-size="32" text-anchor="end">E</text>
<rect x="944.6" y="1176.17" width="142.9" height="50.2" fill="#e0f7c0" stroke="#262620" stroke-width="1.5"/>
<text x="1016.05" y="1208.69" font-size="24" text-anchor="middle">0.79</text>
<rect x="1087.5" y="1176.17" width="113.93" height="50.2" fill="#b9ed6f" stroke="#262620" stroke-width="1.5"/>
<text x="1144.46" y="1208.69" font-size="24" text-anchor="middle">0.63</text>
<rect x="1201.43" y="1176.17" width="127.14" height="50.2" fill="#00dc00" stroke="#262620" stroke-width="1.5"/>
<text x="1265" y="1208.69" font-size="24" text-anchor="middle">0.70</text>
<text x="936.8" y="1283.06" font-size="32" text-anchor="end">R</text>
<rect x="944.6" y="1248.36" width="137.9" height="50.2" fill="#e0f7c0" stroke="#262620" stroke-width="1.5"/>
<text x="1013.55" y="1280.88" font-size="24" text-anchor="middle">0.77</text>
<rect x="1082.5" y="1248.36" width="159.64" height="50.2" fill="#b9ed6f" stroke="#262620" stroke-width="1.5"/>
<text x="1162.32" y="1280.88" font-size="24" text-anchor="middle">0.88</text>
<rect x="1242.14" y="1248.36" width="148.21" height="50.2" fill="#00dc00" stroke="#262620" stroke-width="1.5"/>
<text x="1316.25" y="1280.88" font-size="24" text-anchor="middle">0.82</text>
<text x="936.8" y="1355.24" font-size="32" text-anchor="end">RB</text>
<rect x="944.6" y="1320.55" width="166.83" height="50.2" fill="#e0f7c0" stroke="#262620" stroke-width="1.5"/>
<text x="1028.01" y="1353.07" font-size="24" text-anchor="middle">0.92</text>
<rect x="1111.43" y="1320.55" width="159.64" height="50.2" fill="#b9ed6f" stroke="#262620" stroke-width="1.5"/>
<text x="1191.25" y="1353.07" font-size="24" text-anchor="middle">0.89</text>
<rect x="1271.07" y="1320.55" width="163.57" height="50.2" fill="#00dc00" stroke="#262620" stroke-width="1.5"/>
<text x="1352.86" y="1353.07" font-size="24" text-anchor="middle">0.90</text>
<text x="936.8" y="1427.43" font-size="32" text-anchor="end">CF</text>
<rect x="944.6" y="1392.74" width="173.97" height="50.2" fill="#e0f7c0" stroke="#262620" stroke-width="1.5"/>
<text x="1031.59" y="1425.26" font-size="24" text-anchor="middle">0.96</text>
<rect x="1118.57" y="1392.74" width="167.86" height="50.2" fill="#b9ed6f" stroke="#262620" stroke-width="1.5"/>
<text x="1202.5" y="1425.26" font-size="24" text-anchor="middle">0.93</text>
<rect x="1286.43" y="1392.74" width="171.07" height="50.2" fill="#00dc00" stroke="#262620" stroke-width="1.5"/>
<text x="1371.96" y="1425.26" font-size="24" text-anchor="middle">0.95</text>
<text x="936.8" y="1499.62" font-size="32" text-anchor="end">BF</text>
<rect x="944.6" y="1464.93" width="152.19" height="50.2" fill="#e0f7c0" stroke="#262620" stroke-width="1.5"/>
<text x="1020.69" y="1497.45" font-size="24" text-anchor="middle">0.84</text>
<rect x="1096.79" y="1464.93" width="148.21" height="50.2" fill="#b9ed6f" stroke="#262620" stroke-width="1.5"/>
<text x="1170.89" y="1497.45" font-size="24" text-anchor="middle">0.82</text>
<rect x="1245" y="1464.93" width="149.64" height="50.2" fill="#00dc00" stroke="#262620" stroke-width="1.5"/>
<text x="1319.82" y="1497.45" font-size="24" text-anchor="middle">0.83</text>
<text x="936.8" y="1571.82" font-size="32" text-anchor="end">B</text>
<rect x="944.6" y="1537.12" width="162.9" height="50.2" fill="#e0f7c0" stroke="#262620" stroke-width="1.5"/>
<text x="1026.05" y="1569.64" font-size="24" text-anchor="middle">0.90</text>
<rect x="1107.5" y="1537.12" width="97.5" height="50.2" fill="#b9ed6f" stroke="#262620" stroke-width="1.5"/>
<text x="1156.25" y="1569.64" font-size="24" text-anchor="middle">0.54</text>
<rect x="1205" y="1537.12" width="121.79" height="50.2" fill="#00dc00" stroke="#262620" stroke-width="1.5"/>
<text x="1265.89" y="1569.64" font-size="24" text-anchor="middle">0.68</text>
<text x="936.8" y="1644.01" font-size="32" text-anchor="end">BZ</text>
<rect x="944.6" y="1609.31" width="136.83" height="50.2" fill="#e0f7c0" stroke="#262620" stroke-width="1.5"/>
<text x="1013.01" y="1641.83" font-size="24" text-anchor="middle">0.76</text>
<rect x="1081.43" y="1609.31" width="175" height="50.2" fill="#b9ed6f" stroke="#262620" stroke-width="1.5"/>
<text x="1168.93" y="1641.83" font-size="24" text-anchor="middle">0.97</text>
<rect x="1256.43" y="1609.31" width="153.57" height="50.2" fill="#00dc00" stroke="#262620" stroke-width="1.5"/>
<text x="1333.21" y="1641.83" font-size="24" text-anchor="middle">0.85</text>
<line x1="944.6" y1="947.55" x2="944.6" y2="1671.5" stroke="#000" stroke-width="2.3"/>
<line x1="943.45" y1="948.7" x2="1667.8" y2="948.7" stroke="#000" stroke-width="2.3"/>
<line x1="1666.9" y1="948.7" x2="1666.9" y2="1671.5" stroke="#080808" stroke-width="2"/>
<line x1="944.6" y1="1670.6" x2="1666.9" y2="1670.6" stroke="#080808" stroke-width="2"/>
<rect x="1526.6" y="966" width="47.8" height="23.4" fill="#e0f7c0" stroke="#333" stroke-width="1.3"/>
<text x="1580.6" y="984" font-size="21" text-anchor="start">Precision</text>
<rect x="1526.6" y="992.75" width="47.8" height="23.4" fill="#b9ed6f" stroke="#333" stroke-width="1.3"/>
<text x="1580.6" y="1010.75" font-size="21" text-anchor="start">Recall</text>
<rect x="1526.6" y="1019.5" width="47.8" height="23.4" fill="#00dc00" stroke="#333" stroke-width="1.3"/>
<text x="1580.6" y="1037.5" font-size="21" text-anchor="start">F1-score</text>
<text x="1470.5" y="1189.2" font-size="32" text-anchor="start" font-weight="bold">OA = 0.95</text>
<text x="1470.5" y="1229.5" font-size="32" text-anchor="start" font-weight="bold">Kappa = 0.92</text>
</g>
<g id="panel-e">
<text x="30.2" y="1758.5" font-size="51.2" text-anchor="start">(e)</text>
<text transform="translate(41.1 2138.38) rotate(-90)" font-size="37.2" text-anchor="middle">Actual label</text>
<rect x="113.3" y="1797.95" width="722" height="680.85" fill="#fafef3"/>
<rect x="113.3" y="1797.95" width="103.14" height="97.26" fill="#f9fdf2"/>
<rect x="113.3" y="1895.21" width="103.14" height="97.26" fill="#f9fef2"/>
<rect x="216.44" y="1895.21" width="103.14" height="97.26" fill="#e1f0d1"/>
<rect x="319.59" y="1895.21" width="103.14" height="97.26" fill="#f9fef2"/>
<rect x="525.87" y="1895.21" width="103.14" height="97.26" fill="#f7fcee"/>
<rect x="629.01" y="1895.21" width="103.14" height="97.26" fill="#f9fdf1"/>
<rect x="216.44" y="1992.48" width="103.14" height="97.26" fill="#fafef2"/>
<rect x="319.59" y="1992.48" width="103.14" height="97.26" fill="#e3f1d4"/>
<rect x="525.87" y="1992.48" width="103.14" height="97.26" fill="#fafef2"/>
<rect x="422.73" y="2089.74" width="103.14" height="97.26" fill="#f8fdf1"/>
<rect x="216.44" y="2187.01" width="103.14" height="97.26" fill="#f8fdf1"/>
<rect x="319.59" y="2187.01" width="103.14" height="97.26" fill="#f9fef2"/>
<rect x="525.87" y="2187.01" width="103.14" height="97.26" fill="#98c66c"/>
<rect x="629.01" y="2187.01" width="103.14" height="97.26" fill="#f6fced"/>
<rect x="732.16" y="2187.01" width="103.14" height="97.26" fill="#f8fdf1"/>
<rect x="525.87" y="2284.27" width="103.14" height="97.26" fill="#f6fcee"/>
<rect x="629.01" y="2284.27" width="103.14" height="97.26" fill="#bfdca1"/>
<rect x="525.87" y="2381.54" width="103.14" height="97.26" fill="#f9fdf1"/>
<rect x="732.16" y="2381.54" width="103.14" height="97.26" fill="#f2f9e8"/>
<line x1="216.44" y1="1797.95" x2="216.44" y2="2478.8" stroke="#c2c2c2" stroke-width="2"/>
<line x1="113.3" y1="1895.21" x2="835.3" y2="1895.21" stroke="#c2c2c2" stroke-width="2"/>
<line x1="319.59" y1="1797.95" x2="319.59" y2="2478.8" stroke="#c2c2c2" stroke-width="2"/>
<line x1="113.3" y1="1992.48" x2="835.3" y2="1992.48" stroke="#c2c2c2" stroke-width="2"/>
<line x1="422.73" y1="1797.95" x2="422.73" y2="2478.8" stroke="#c2c2c2" stroke-width="2"/>
<line x1="113.3" y1="2089.74" x2="835.3" y2="2089.74" stroke="#c2c2c2" stroke-width="2"/>
<line x1="525.87" y1="1797.95" x2="525.87" y2="2478.8" stroke="#c2c2c2" stroke-width="2"/>
<line x1="113.3" y1="2187.01" x2="835.3" y2="2187.01" stroke="#c2c2c2" stroke-width="2"/>
<line x1="629.01" y1="1797.95" x2="629.01" y2="2478.8" stroke="#c2c2c2" stroke-width="2"/>
<line x1="113.3" y1="2284.27" x2="835.3" y2="2284.27" stroke="#c2c2c2" stroke-width="2"/>
<line x1="732.16" y1="1797.95" x2="732.16" y2="2478.8" stroke="#c2c2c2" stroke-width="2"/>
<line x1="113.3" y1="2381.54" x2="835.3" y2="2381.54" stroke="#c2c2c2" stroke-width="2"/>
<g clip-path="url(#mc2)" font-size="26.6" text-anchor="middle">
<text x="164.87" y="1855.16">1,064</text>
<text x="268.01" y="1855.16">274</text>
<text x="577.44" y="1855.16">56</text>
<text x="164.87" y="1952.43">687</text>
<text x="268.01" y="1952.43">25,975</text>
<text x="371.16" y="1952.43">849</text>
<text x="474.3" y="1952.43">47</text>
<text x="577.44" y="1952.43">3,562</text>
<text x="680.59" y="1952.43">1,165</text>
<text x="783.73" y="1952.43">144</text>
<text x="164.87" y="2049.69">8</text>
<text x="268.01" y="2049.69">439</text>
<text x="371.16" y="2049.69">23,772</text>
<text x="474.3" y="2049.69">62</text>
<text x="577.44" y="2049.69">525</text>
<text x="680.59" y="2049.69">13</text>
<text x="268.01" y="2146.95">263</text>
<text x="371.16" y="2146.95">92</text>
<text x="474.3" y="2146.95">1,781</text>
<text x="164.87" y="2244.22">287</text>
<text x="268.01" y="2244.22">1,717</text>
<text x="371.16" y="2244.22">665</text>
<text x="577.44" y="2244.22">102,715</text>
<text x="680.59" y="2244.22">4,378</text>
<text x="783.73" y="2244.22">1,639</text>
<text x="268.01" y="2341.48">356</text>
<text x="371.16" y="2341.48">59</text>
<text x="577.44" y="2341.48">4,132</text>
<text x="680.59" y="2341.48">62,451</text>
<text x="783.73" y="2341.48">236</text>
<text x="268.01" y="2438.75">398</text>
<text x="577.44" y="2438.75">1,269</text>
<text x="680.59" y="2438.75">169</text>
<text x="783.73" y="2438.75">8,751</text>
</g>
<rect x="113.3" y="1797.95" width="722" height="680.85" fill="none" stroke="#000" stroke-width="2.3"/>
<text x="164.87" y="1783.75" font-size="32" text-anchor="middle">D</text>
<text x="101.9" y="1855.58" font-size="32" text-anchor="end">D</text>
<text x="268.01" y="1783.75" font-size="32" text-anchor="middle">V</text>
<text x="101.9" y="1952.85" font-size="32" text-anchor="end">V</text>
<text x="371.16" y="1783.75" font-size="32" text-anchor="middle">BZ</text>
<text x="101.9" y="2050.11" font-size="32" text-anchor="end">BZ</text>
<text x="474.3" y="1783.75" font-size="32" text-anchor="middle">H</text>
<text x="101.9" y="2147.38" font-size="32" text-anchor="end">H</text>
<text x="577.44" y="1783.75" font-size="32" text-anchor="middle">CF</text>
<text x="101.9" y="2244.64" font-size="32" text-anchor="end">CF</text>
<text x="680.59" y="1783.75" font-size="32" text-anchor="middle">G</text>
<text x="101.9" y="2341.9" font-size="32" text-anchor="end">G</text>
<text x="783.73" y="1783.75" font-size="32" text-anchor="middle">BF</text>
<text x="101.9" y="2439.17" font-size="32" text-anchor="end">BF</text>
<rect x="116.7" y="2500" width="715.3" height="20.5" fill="url(#cbg)" stroke="#262626" stroke-width="1.6"/>
<line x1="116.7" y1="2520.5" x2="116.7" y2="2532.6" stroke="#333" stroke-width="1.7"/>
<text transform="translate(116.7 2563) scale(1 1.22)" font-size="23.9" text-anchor="middle">0</text>
<line x1="206.11" y1="2520.5" x2="206.11" y2="2532.6" stroke="#333" stroke-width="1.7"/>
<text transform="translate(206.11 2563) scale(1 1.22)" font-size="23.9" text-anchor="middle">12,875</text>
<line x1="295.52" y1="2520.5" x2="295.52" y2="2532.6" stroke="#333" stroke-width="1.7"/>
<text transform="translate(295.52 2563) scale(1 1.22)" font-size="23.9" text-anchor="middle">25,750</text>
<line x1="384.94" y1="2520.5" x2="384.94" y2="2532.6" stroke="#333" stroke-width="1.7"/>
<text transform="translate(384.94 2563) scale(1 1.22)" font-size="23.9" text-anchor="middle">38,625</text>
<line x1="474.35" y1="2520.5" x2="474.35" y2="2532.6" stroke="#333" stroke-width="1.7"/>
<text transform="translate(474.35 2563) scale(1 1.22)" font-size="23.9" text-anchor="middle">51,500</text>
<line x1="563.76" y1="2520.5" x2="563.76" y2="2532.6" stroke="#333" stroke-width="1.7"/>
<text transform="translate(563.76 2563) scale(1 1.22)" font-size="23.9" text-anchor="middle">64,375</text>
<line x1="653.18" y1="2520.5" x2="653.18" y2="2532.6" stroke="#333" stroke-width="1.7"/>
<text transform="translate(653.18 2563) scale(1 1.22)" font-size="23.9" text-anchor="middle">77,250</text>
<line x1="742.59" y1="2520.5" x2="742.59" y2="2532.6" stroke="#333" stroke-width="1.7"/>
<text transform="translate(742.59 2563) scale(1 1.22)" font-size="23.9" text-anchor="middle">90,125</text>
<line x1="832" y1="2520.5" x2="832" y2="2532.6" stroke="#333" stroke-width="1.7"/>
<text transform="translate(832 2563) scale(1 1.22)" font-size="23.9" text-anchor="middle">103,000</text>
<text x="847.4" y="1758.5" font-size="51.2" text-anchor="start">(f)</text>
<line x1="944.6" y1="1793.1" x2="944.6" y2="1797.4" stroke="#000" stroke-width="2.2"/>
<text x="944.6" y="1783.7" font-size="32" text-anchor="middle">0.0</text>
<line x1="1034.89" y1="1793.1" x2="1034.89" y2="1797.4" stroke="#000" stroke-width="2.2"/>
<text x="1034.89" y="1783.7" font-size="32" text-anchor="middle">0.5</text>
<line x1="1125.17" y1="1793.1" x2="1125.17" y2="1797.4" stroke="#000" stroke-width="2.2"/>
<text x="1125.17" y="1783.7" font-size="32" text-anchor="middle">1.0</text>
<line x1="1215.46" y1="1793.1" x2="1215.46" y2="1797.4" stroke="#000" stroke-width="2.2"/>
<text x="1215.46" y="1783.7" font-size="32" text-anchor="middle">1.5</text>
<line x1="1305.75" y1="1793.1" x2="1305.75" y2="1797.4" stroke="#000" stroke-width="2.2"/>
<text x="1305.75" y="1783.7" font-size="32" text-anchor="middle">2.0</text>
<line x1="1396.04" y1="1793.1" x2="1396.04" y2="1797.4" stroke="#000" stroke-width="2.2"/>
<text x="1396.04" y="1783.7" font-size="32" text-anchor="middle">2.5</text>
<line x1="1486.33" y1="1793.1" x2="1486.33" y2="1797.4" stroke="#000" stroke-width="2.2"/>
<text x="1486.33" y="1783.7" font-size="32" text-anchor="middle">3.0</text>
<line x1="1576.61" y1="1793.1" x2="1576.61" y2="1797.4" stroke="#000" stroke-width="2.2"/>
<text x="1576.61" y="1783.7" font-size="32" text-anchor="middle">3.5</text>
<line x1="1666.9" y1="1793.1" x2="1666.9" y2="1797.4" stroke="#000" stroke-width="2.2"/>
<text x="1666.9" y="1783.7" font-size="32" text-anchor="middle">4.0</text>
<line x1="940.8" y1="1797.4" x2="948.4" y2="1797.4" stroke="#000" stroke-width="2.3"/>
<line x1="940.8" y1="1900.47" x2="948.4" y2="1900.47" stroke="#000" stroke-width="2.3"/>
<line x1="940.8" y1="2003.54" x2="948.4" y2="2003.54" stroke="#000" stroke-width="2.3"/>
<line x1="940.8" y1="2106.61" x2="948.4" y2="2106.61" stroke="#000" stroke-width="2.3"/>
<line x1="940.8" y1="2209.69" x2="948.4" y2="2209.69" stroke="#000" stroke-width="2.3"/>
<line x1="940.8" y1="2312.76" x2="948.4" y2="2312.76" stroke="#000" stroke-width="2.3"/>
<line x1="940.8" y1="2415.83" x2="948.4" y2="2415.83" stroke="#000" stroke-width="2.3"/>
<line x1="940.8" y1="2518.9" x2="948.4" y2="2518.9" stroke="#000" stroke-width="2.3"/>
<text x="936.8" y="1858.44" font-size="32" text-anchor="end">D</text>
<rect x="944.6" y="1823.04" width="137.54" height="51.6" fill="#e0f7c0" stroke="#262620" stroke-width="1.5"/>
<text x="1013.37" y="1856.26" font-size="24" text-anchor="middle">0.76</text>
<rect x="1082.14" y="1823.04" width="93.93" height="51.6" fill="#b9ed6f" stroke="#262620" stroke-width="1.5"/>
<text x="1129.11" y="1856.26" font-size="24" text-anchor="middle">0.52</text>
<rect x="1176.07" y="1823.04" width="111.79" height="51.6" fill="#00dc00" stroke="#262620" stroke-width="1.5"/>
<text x="1231.96" y="1856.26" font-size="24" text-anchor="middle">0.62</text>
<text x="936.8" y="1961.51" font-size="32" text-anchor="end">V</text>
<rect x="944.6" y="1926.11" width="144.69" height="51.6" fill="#e0f7c0" stroke="#262620" stroke-width="1.5"/>
<text x="1016.94" y="1959.33" font-size="24" text-anchor="middle">0.80</text>
<rect x="1089.29" y="1926.11" width="159.29" height="51.6" fill="#b9ed6f" stroke="#262620" stroke-width="1.5"/>
<text x="1168.93" y="1959.33" font-size="24" text-anchor="middle">0.88</text>
<rect x="1248.57" y="1926.11" width="151.43" height="51.6" fill="#00dc00" stroke="#262620" stroke-width="1.5"/>
<text x="1324.29" y="1959.33" font-size="24" text-anchor="middle">0.84</text>
<text x="936.8" y="2064.58" font-size="32" text-anchor="end">BZ</text>
<rect x="944.6" y="2029.18" width="172.54" height="51.6" fill="#e0f7c0" stroke="#262620" stroke-width="1.5"/>
<text x="1030.87" y="2062.4" font-size="24" text-anchor="middle">0.96</text>
<rect x="1117.14" y="2029.18" width="168.93" height="51.6" fill="#b9ed6f" stroke="#262620" stroke-width="1.5"/>
<text x="1201.61" y="2062.4" font-size="24" text-anchor="middle">0.93</text>
<rect x="1286.07" y="2029.18" width="171.07" height="51.6" fill="#00dc00" stroke="#262620" stroke-width="1.5"/>
<text x="1371.61" y="2062.4" font-size="24" text-anchor="middle">0.95</text>
<text x="936.8" y="2167.65" font-size="32" text-anchor="end">H</text>
<rect x="944.6" y="2132.25" width="150.76" height="51.6" fill="#e0f7c0" stroke="#262620" stroke-width="1.5"/>
<text x="1019.98" y="2165.47" font-size="24" text-anchor="middle">0.83</text>
<rect x="1095.36" y="2132.25" width="170" height="51.6" fill="#b9ed6f" stroke="#262620" stroke-width="1.5"/>
<text x="1180.36" y="2165.47" font-size="24" text-anchor="middle">0.94</text>
<rect x="1265.36" y="2132.25" width="159.29" height="51.6" fill="#00dc00" stroke="#262620" stroke-width="1.5"/>
<text x="1345" y="2165.47" font-size="24" text-anchor="middle">0.88</text>
<text x="936.8" y="2270.72" font-size="32" text-anchor="end">CF</text>
<rect x="944.6" y="2235.32" width="166.47" height="51.6" fill="#e0f7c0" stroke="#262620" stroke-width="1.5"/>
<text x="1027.84" y="2268.54" font-size="24" text-anchor="middle">0.92</text>
<rect x="1111.07" y="2235.32" width="165" height="51.6" fill="#b9ed6f" stroke="#262620" stroke-width="1.5"/>
<text x="1193.57" y="2268.54" font-size="24" text-anchor="middle">0.91</text>
<rect x="1276.07" y="2235.32" width="166.07" height="51.6" fill="#00dc00" stroke="#262620" stroke-width="1.5"/>
<text x="1359.11" y="2268.54" font-size="24" text-anchor="middle">0.92</text>
<text x="936.8" y="2373.79" font-size="32" text-anchor="end">G</text>
<rect x="944.6" y="2338.39" width="167.54" height="51.6" fill="#e0f7c0" stroke="#262620" stroke-width="1.5"/>
<text x="1028.37" y="2371.61" font-size="24" text-anchor="middle">0.93</text>
<rect x="1112.14" y="2338.39" width="165.36" height="51.6" fill="#b9ed6f" stroke="#262620" stroke-width="1.5"/>
<text x="1194.82" y="2371.61" font-size="24" text-anchor="middle">0.92</text>
<rect x="1277.5" y="2338.39" width="166.79" height="51.6" fill="#00dc00" stroke="#262620" stroke-width="1.5"/>
<text x="1360.89" y="2371.61" font-size="24" text-anchor="middle">0.92</text>
<text x="936.8" y="2476.86" font-size="32" text-anchor="end">BF</text>
<rect x="944.6" y="2441.46" width="148.97" height="51.6" fill="#e0f7c0" stroke="#262620" stroke-width="1.5"/>
<text x="1019.09" y="2474.68" font-size="24" text-anchor="middle">0.83</text>
<rect x="1093.57" y="2441.46" width="146.79" height="51.6" fill="#b9ed6f" stroke="#262620" stroke-width="1.5"/>
<text x="1166.96" y="2474.68" font-size="24" text-anchor="middle">0.81</text>
<rect x="1240.36" y="2441.46" width="147.86" height="51.6" fill="#00dc00" stroke="#262620" stroke-width="1.5"/>
<text x="1314.29" y="2474.68" font-size="24" text-anchor="middle">0.82</text>
<line x1="944.6" y1="1796.25" x2="944.6" y2="2519.8" stroke="#000" stroke-width="2.3"/>
<line x1="943.45" y1="1797.4" x2="1667.8" y2="1797.4" stroke="#000" stroke-width="2.3"/>
<line x1="1666.9" y1="1797.4" x2="1666.9" y2="2519.8" stroke="#080808" stroke-width="2"/>
<line x1="944.6" y1="2518.9" x2="1666.9" y2="2518.9" stroke="#080808" stroke-width="2"/>
<rect x="1526.6" y="1815.2" width="47.8" height="23.4" fill="#e0f7c0" stroke="#333" stroke-width="1.3"/>
<text x="1580.6" y="1833.2" font-size="21" text-anchor="start">Precision</text>
<rect x="1526.6" y="1841.95" width="47.8" height="23.4" fill="#b9ed6f" stroke="#333" stroke-width="1.3"/>
<text x="1580.6" y="1859.95" font-size="21" text-anchor="start">Recall</text>
<rect x="1526.6" y="1868.7" width="47.8" height="23.4" fill="#00dc00" stroke="#333" stroke-width="1.3"/>
<text x="1580.6" y="1886.7" font-size="21" text-anchor="start">F1-score</text>
<text x="1470.5" y="2163.9" font-size="32" text-anchor="start" font-weight="bold">OA = 0.91</text>
<text x="1470.5" y="2204" font-size="32" text-anchor="start" font-weight="bold">Kappa = 0.87</text>
</g>
</svg>
</body>
</html>
